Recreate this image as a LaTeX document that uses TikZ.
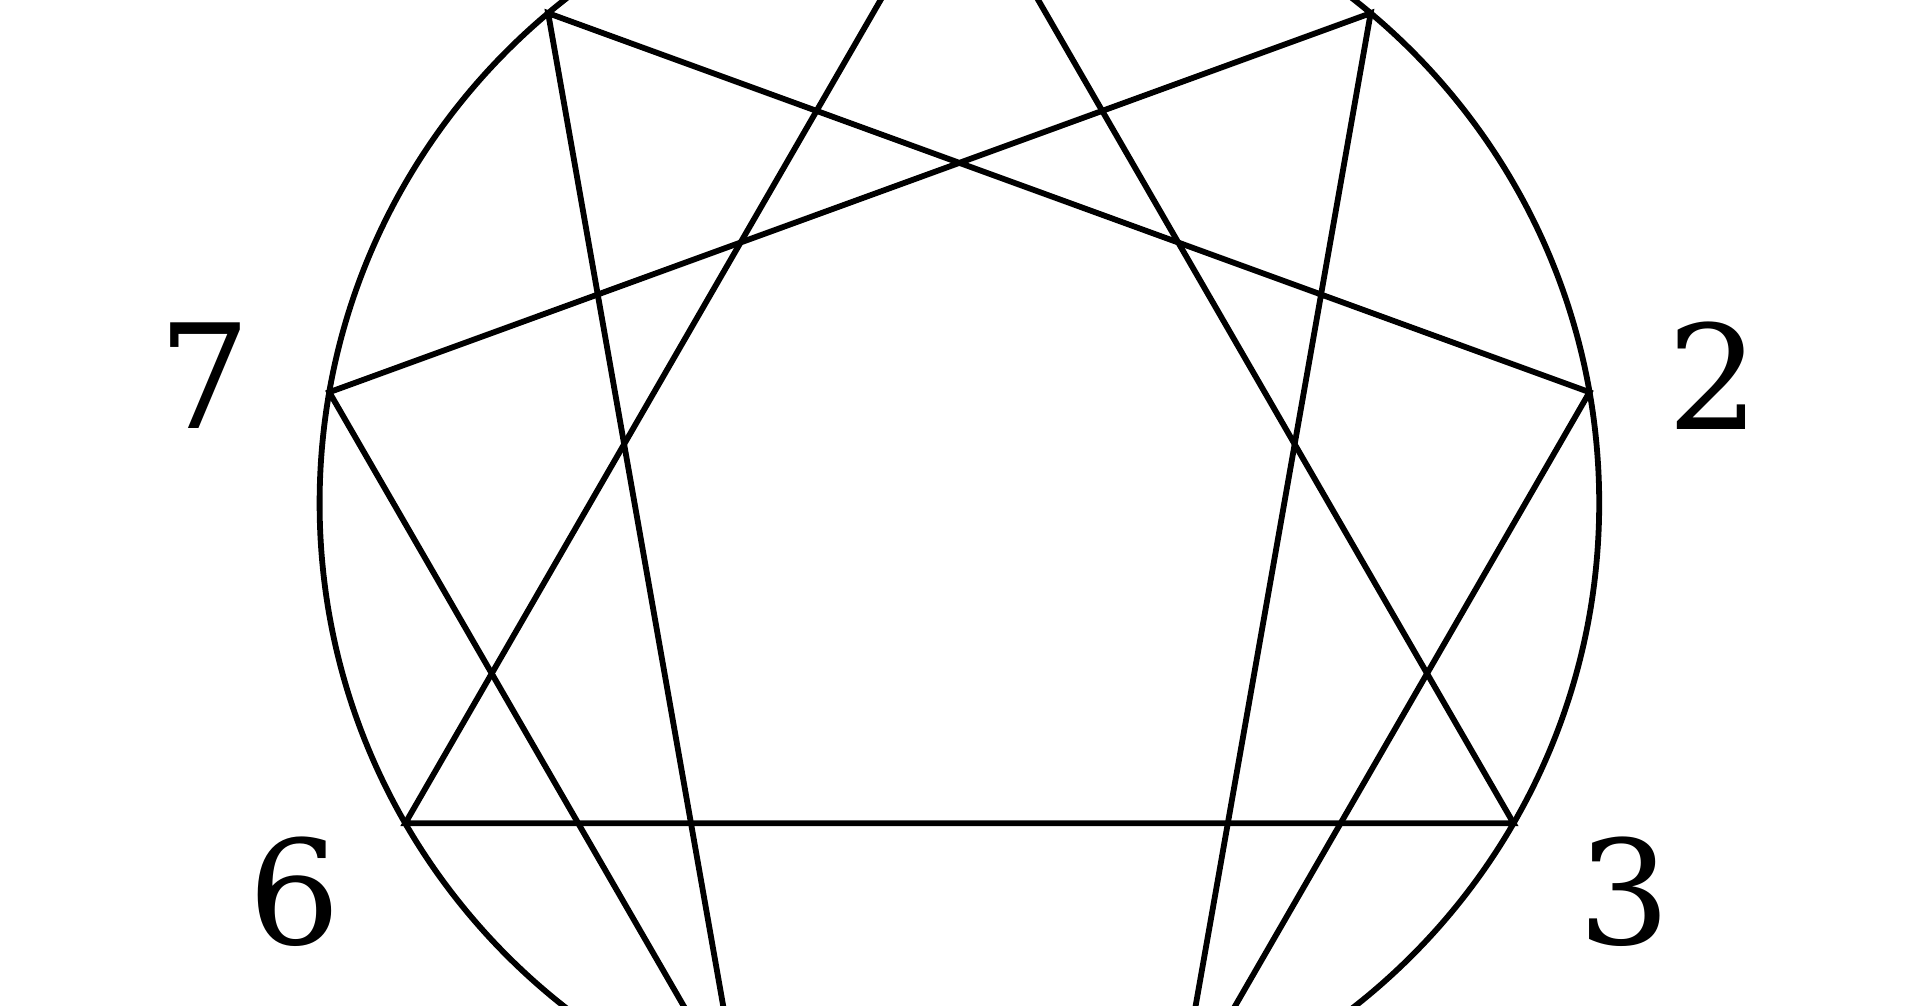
\documentclass[tikz,border=0pt]{standalone}
\usepackage{fontspec}
\setmainfont{DejaVu Serif}
\begin{document}
\begin{tikzpicture}[x=1pt,y=1pt,
  ring/.style={draw=black,line width=5.8pt},
  chord/.style={draw=black,line width=5.8pt,line join=miter,line cap=butt},
  lab/.style={inner sep=0pt,font=\fontsize{145}{145}\selectfont}]
\useasboundingbox (0,0) rectangle (1920,1005);
\fill[white] (0,0) rectangle (1920,1005);
\clip (0,0) rectangle (1920,1005);
\coordinate (c) at (959.4,501.7);
\foreach \i/\a in {9/90,1/50,2/10,3/-30,4/-70,5/-110,6/-150,7/170,8/130}{
  \path (c) ++(\a:639.8) coordinate (p\i);
}
\draw[ring] (c) circle[radius=639.8];
\draw[chord] (p9) -- (p3) -- (p6) -- cycle;
\draw[chord] (p1) -- (p4) -- (p2) -- (p8) -- (p5) -- (p7) -- cycle;
\path (c) ++(170:766) ++(0,-5) node[lab] (l7) {7};
\path (c) ++(10:766) ++(0,-5) node[lab] (l2) {2};
\path (c) ++(-150:768) ++(0,-4) node[lab] (l6) {6};
\path (c) ++(-30:768) ++(0,-4) node[lab] (l3) {3};
\end{tikzpicture}
\end{document}
